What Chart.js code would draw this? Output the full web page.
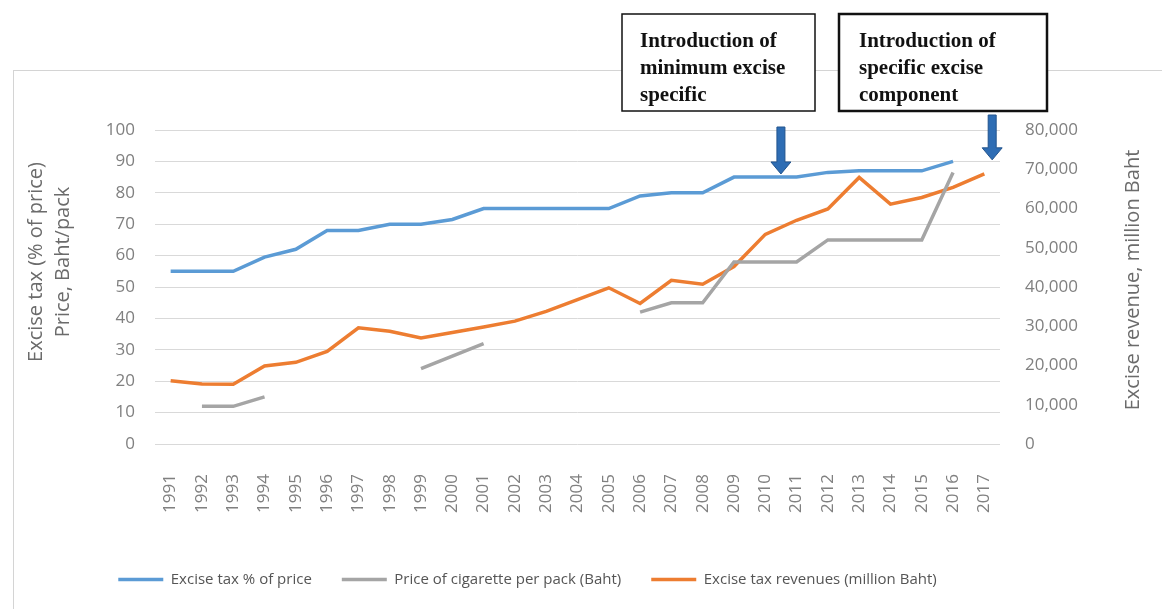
<!DOCTYPE html>
<html>
<head>
<meta charset="utf-8">
<script src="https://cdn.jsdelivr.net/npm/chart.js@4.4.1/dist/chart.umd.min.js"></script>
<style>
    html, body { margin: 0; padding: 0; background: #fff; }
    canvas { display: block; }
</style>
</head>
<body>
<canvas id="exciseChart" width="1162" height="609"></canvas>
<script>
// data
const years = ['1991', '1992', '1993', '1994', '1995', '1996', '1997', '1998', '1999', '2000',
    '2001', '2002', '2003', '2004', '2005', '2006', '2007', '2008', '2009', '2010',
    '2011', '2012', '2013', '2014', '2015', '2016', '2017'];

// Excise tax % of price (left axis)
const exciseTaxPct = [55, 55, 55, 59.5, 62, 68, 68, 70, 70, 71.5,
    75, 75, 75, 75, 75, 79, 80, 80, 85, 85,
    85, 86.5, 87, 87, 87, 90, null];

// Price of cigarette per pack, Baht (left axis) - gaps where no data
const pricePerPack = [null, 12, 12, 15, null, null, null, null, 24, 28,
    32, null, null, null, null, 42, 45, 45, 58, 58,
    58, 65, 65, 65, 65, 86.5, null];

// Excise tax revenues, million Baht (right axis)
const exciseRevenue = [16100, 15300, 15200, 19900, 20800, 23600, 29600, 28700, 27000, 28400,
    29800, 31300, 33800, 36800, 39800, 35800, 41700, 40700, 45200, 53400,
    57000, 59900, 67900, 61100, 62800, 65400, 68800];

const leftTicks = { min: 0, max: 100, step: 10 };
const rightTicks = { min: 0, max: 80000, step: 10000 };

const seriesNames = ['Excise tax % of price', 'Price of cigarette per pack (Baht)', 'Excise tax revenues (million Baht)'];
const seriesColors = ['#5b9bd5', '#a5a5a5', '#ed7d31'];

const leftTitle = ['Excise tax (% of price)', 'Price, Baht/pack'];
const rightTitle = 'Excise revenue, million Baht';
const noteLeft = ['Introduction of', 'minimum excise', 'specific'];
const noteRight = ['Introduction of', 'specific excise', 'component'];

function drawArrow(ctx, x, yTop, yTip) {
    const shaftW = 8, headW = 20, headH = 12;
    ctx.save();
    ctx.fillStyle = '#2e6db4';
    ctx.strokeStyle = '#22548d';
    ctx.lineWidth = 1;
    ctx.beginPath();
    ctx.moveTo(x - shaftW / 2, yTop);
    ctx.lineTo(x + shaftW / 2, yTop);
    ctx.lineTo(x + shaftW / 2, yTip - headH);
    ctx.lineTo(x + headW / 2, yTip - headH);
    ctx.lineTo(x, yTip);
    ctx.lineTo(x - headW / 2, yTip - headH);
    ctx.lineTo(x - shaftW / 2, yTip - headH);
    ctx.closePath();
    ctx.fill();
    ctx.stroke();
    ctx.restore();
}

function drawNote(ctx, x, y, w, h, lines, textX, border) {
    ctx.save();
    ctx.fillStyle = '#fff';
    ctx.fillRect(x, y, w, h);
    ctx.strokeStyle = '#111';
    ctx.lineWidth = border;
    ctx.strokeRect(x, y, w, h);
    ctx.fillStyle = '#111';
    ctx.font = 'bold 21px "Liberation Serif"';
    ctx.textBaseline = 'middle';
    ctx.textAlign = 'left';
    lines.forEach((t, i) => ctx.fillText(t, textX, 42 + i * 27));
    ctx.restore();
}

const decor = {
    id: 'decor',
    afterLayout(chart) {
        // legend sits left of centre in the original
        chart.legend.left -= 55;
        chart.legend.right -= 55;
    },
    beforeDraw(chart) {
        const ctx = chart.ctx;
        ctx.save();
        ctx.fillStyle = '#fff';
        ctx.fillRect(0, 0, chart.width, chart.height);
        // outer frame of the chart
        ctx.strokeStyle = '#d4d4d4';
        ctx.lineWidth = 1;
        ctx.strokeRect(13.5, 70.5, 1200, 600);
        ctx.restore();
    },
    afterDraw(chart) {
        const ctx = chart.ctx;

        // axis titles, both read bottom to top
        ctx.save();
        ctx.fillStyle = '#6b6b6b';
        ctx.font = '20px "Open Sans"';
        ctx.textAlign = 'center';
        ctx.textBaseline = 'middle';
        ctx.translate(36, 262);
        ctx.rotate(-Math.PI / 2);
        ctx.fillText(leftTitle[0], 0, 0);
        ctx.fillText(leftTitle[1], 0, 27);
        ctx.restore();

        ctx.save();
        ctx.fillStyle = '#6b6b6b';
        ctx.font = '20px "Open Sans"';
        ctx.textAlign = 'center';
        ctx.textBaseline = 'middle';
        ctx.translate(1133, 280);
        ctx.rotate(-Math.PI / 2);
        ctx.fillText(rightTitle, 0, 0);
        ctx.restore();

        // annotation boxes and arrows
        const xs = chart.scales.x;
        const ys = chart.scales.y;
        drawNote(ctx, 622, 14, 193, 97, noteLeft, 640, 1.5);
        drawNote(ctx, 839, 14, 208, 97, noteRight, 859, 2.5);
        drawArrow(ctx, xs.getPixelForValue(19.5), 127, ys.getPixelForValue(86));
        drawArrow(ctx, xs.getPixelForValue(26.25), 115, ys.getPixelForValue(90.5));
    }
};

const ctx = document.getElementById('exciseChart').getContext('2d');
const values = [exciseTaxPct, pricePerPack, exciseRevenue];

new Chart(ctx, {
    type: 'line',
    data: {
        labels: years,
        datasets: values.map((v, i) => ({
            label: seriesNames[i],
            data: v,
            borderColor: seriesColors[i],
            backgroundColor: seriesColors[i],
            borderWidth: 3.5,
            pointRadius: 0,
            tension: 0,
            spanGaps: false,
            yAxisID: i === 2 ? 'y1' : 'y'
        }))
    },
    options: {
        responsive: false,
        animation: false,
        devicePixelRatio: 1,
        layout: { padding: { left: 20, right: 17, top: 130, bottom: 12 } },
        plugins: {
            tooltip: { enabled: false },
            legend: {
                position: 'bottom',
                labels: {
                    usePointStyle: true,
                    pointStyle: 'line',
                    pointStyleWidth: 45,
                    padding: 30,
                    color: '#555',
                    font: { family: '"Open Sans"', size: 15 }
                }
            }
        },
        scales: {
            x: {
                offset: true,
                grid: { display: false },
                border: { display: false },
                ticks: {
                    minRotation: 90,
                    maxRotation: 90,
                    autoSkip: false,
                    padding: 22,
                    color: '#808080',
                    font: { family: '"Open Sans"', size: 17 }
                },
                afterFit: (s) => { s.height = 98; }
            },
            y: {
                position: 'left',
                min: leftTicks.min,
                max: leftTicks.max,
                grid: { color: '#d9d9d9', lineWidth: 1, drawTicks: false },
                border: { display: false },
                ticks: {
                    stepSize: leftTicks.step,
                    padding: 20,
                    color: '#808080',
                    font: { family: '"Open Sans"', size: 17 }
                },
                afterFit: (s) => { s.width = 135; }
            },
            y1: {
                position: 'right',
                min: rightTicks.min,
                max: rightTicks.max,
                grid: { display: false, drawTicks: false },
                border: { display: false },
                ticks: {
                    stepSize: rightTicks.step,
                    padding: 25,
                    color: '#808080',
                    font: { family: '"Open Sans"', size: 17 },
                    callback: (v) => v.toLocaleString('en-US')
                },
                afterFit: (s) => { s.width = 145; }
            }
        }
    },
    plugins: [decor]
});
</script>
</body>
</html>
